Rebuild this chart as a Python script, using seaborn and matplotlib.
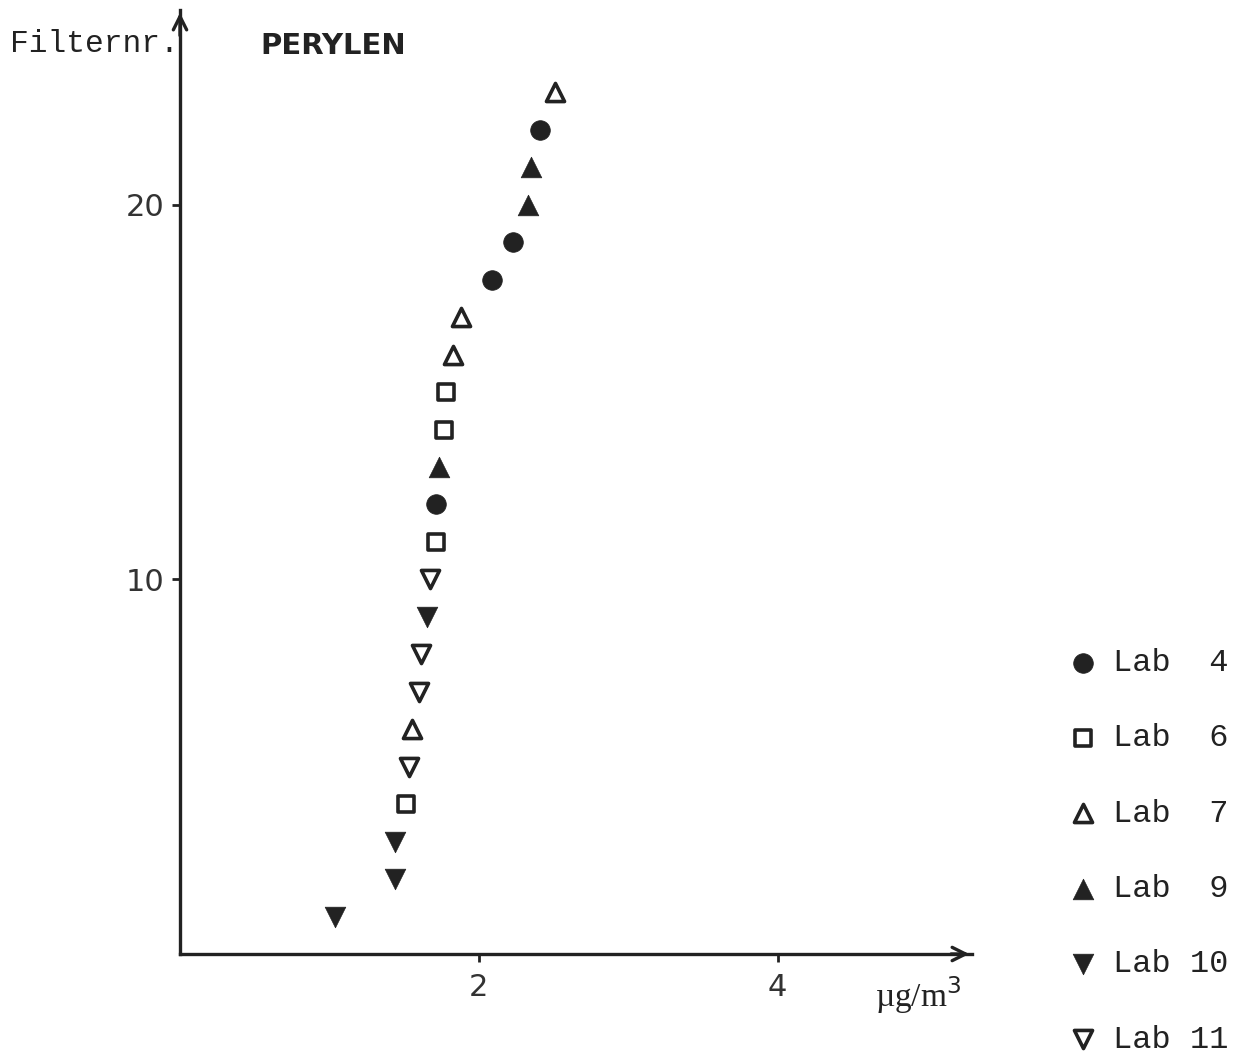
import matplotlib
matplotlib.use("Agg")
import matplotlib.pyplot as plt
import seaborn as sns
import pandas as pd

# Data: filter number, concentration (µg/m³), lab
filter_nr = list(range(1, 24))
conc = [1.04, 1.44, 1.44, 1.51, 1.53, 1.55, 1.60, 1.61, 1.65, 1.67, 1.71, 1.71,
        1.73, 1.77, 1.78, 1.83, 1.88, 2.09, 2.23, 2.33, 2.35, 2.41, 2.51]
lab = ["Lab 10", "Lab 10", "Lab 10", "Lab 6", "Lab 11", "Lab 7", "Lab 11", "Lab 11",
       "Lab 10", "Lab 11", "Lab 6", "Lab 4", "Lab 9", "Lab 6", "Lab 6", "Lab 7",
       "Lab 7", "Lab 4", "Lab 4", "Lab 9", "Lab 9", "Lab 4", "Lab 7"]
lab_order = ["Lab 4", "Lab 6", "Lab 7", "Lab 9", "Lab 10", "Lab 11"]
legend_labels = ["Lab  4", "Lab  6", "Lab  7", "Lab  9", "Lab 10", "Lab 11"]
x_ticks = [2, 4]
y_ticks = [10, 20]

df = pd.DataFrame({"filter": filter_nr, "conc": conc, "lab": lab})

ink = "#222222"
styles = {
    "Lab 4": dict(marker="o", filled=True, s=200),
    "Lab 6": dict(marker="s", filled=False, s=120),
    "Lab 7": dict(marker="^", filled=False, s=170),
    "Lab 9": dict(marker="^", filled=True, s=220),
    "Lab 10": dict(marker="v", filled=True, s=220),
    "Lab 11": dict(marker="v", filled=False, s=170),
}

sns.set_theme(style="white")
plt.rcParams["font.family"] = ["DejaVu Sans"]

fig = plt.figure(figsize=(12.35, 10.53), dpi=100)
ax = fig.add_axes([180 / 1235, 1 - 954 / 1053, 792 / 1235, 944 / 1053])

for name, lbl in zip(lab_order, legend_labels):
    st = styles[name]
    sub = df[df["lab"] == name]
    sns.scatterplot(data=sub, x="conc", y="filter", ax=ax, marker=st["marker"],
                    s=st["s"], facecolor=ink if st["filled"] else "white",
                    edgecolor=ink, linewidth=2.6 if not st["filled"] else 0.5,
                    label=lbl, zorder=3)

ax.set_xlim(0, 5.3)
ax.set_ylim(0, 25.2)
ax.set_xticks(x_ticks)
ax.set_yticks(y_ticks)
ax.set_xlabel("")
ax.set_ylabel("")
for side in ["top", "right"]:
    ax.spines[side].set_visible(False)
for side in ["left", "bottom"]:
    ax.spines[side].set_linewidth(2.4)
    ax.spines[side].set_color(ink)
ax.tick_params(axis="both", which="both", direction="out", length=6, width=2,
               color=ink, labelsize=22, labelcolor="#333333", pad=5)
ax.tick_params(axis="x", bottom=True, pad=8)
ax.tick_params(axis="y", left=True)

# arrowheads
ax.annotate("", xy=(1.0, 0), xytext=(0.97, 0), xycoords="axes fraction",
            arrowprops=dict(arrowstyle="->,head_length=0.8,head_width=0.4",
                            lw=2.4, color=ink), annotation_clip=False)
ax.annotate("", xy=(0, 1.0), xytext=(0, 0.97), xycoords="axes fraction",
            arrowprops=dict(arrowstyle="->,head_length=0.8,head_width=0.4",
                            lw=2.4, color=ink), annotation_clip=False)

# texts
fig.text(10 / 1235, 1 - 44 / 1053, "Filternr.", family="Liberation Mono",
         fontsize=22.5, color=ink, va="center", ha="left")
fig.text(260 / 1235, 1 - 46 / 1053, "PERYLEN", fontsize=21, fontweight="bold",
         color=ink, va="center", ha="left")
fig.text(875 / 1235, 1 - 995 / 1053, r"µg/m$^3$", family="Liberation Serif",
         fontsize=24, color=ink, va="center", ha="left")

leg = ax.legend(loc="upper left", bbox_to_anchor=(1067 / 1235, 1 - 648 / 1053),
                bbox_transform=fig.transFigure, frameon=False,
                prop={"family": "Liberation Mono", "size": 23},
                labelspacing=1.42, handletextpad=0.45, handlelength=1.0,
                borderaxespad=0, borderpad=0)
for t in leg.get_texts():
    t.set_color(ink)

fig.savefig("out.png", dpi=100, facecolor="white")
